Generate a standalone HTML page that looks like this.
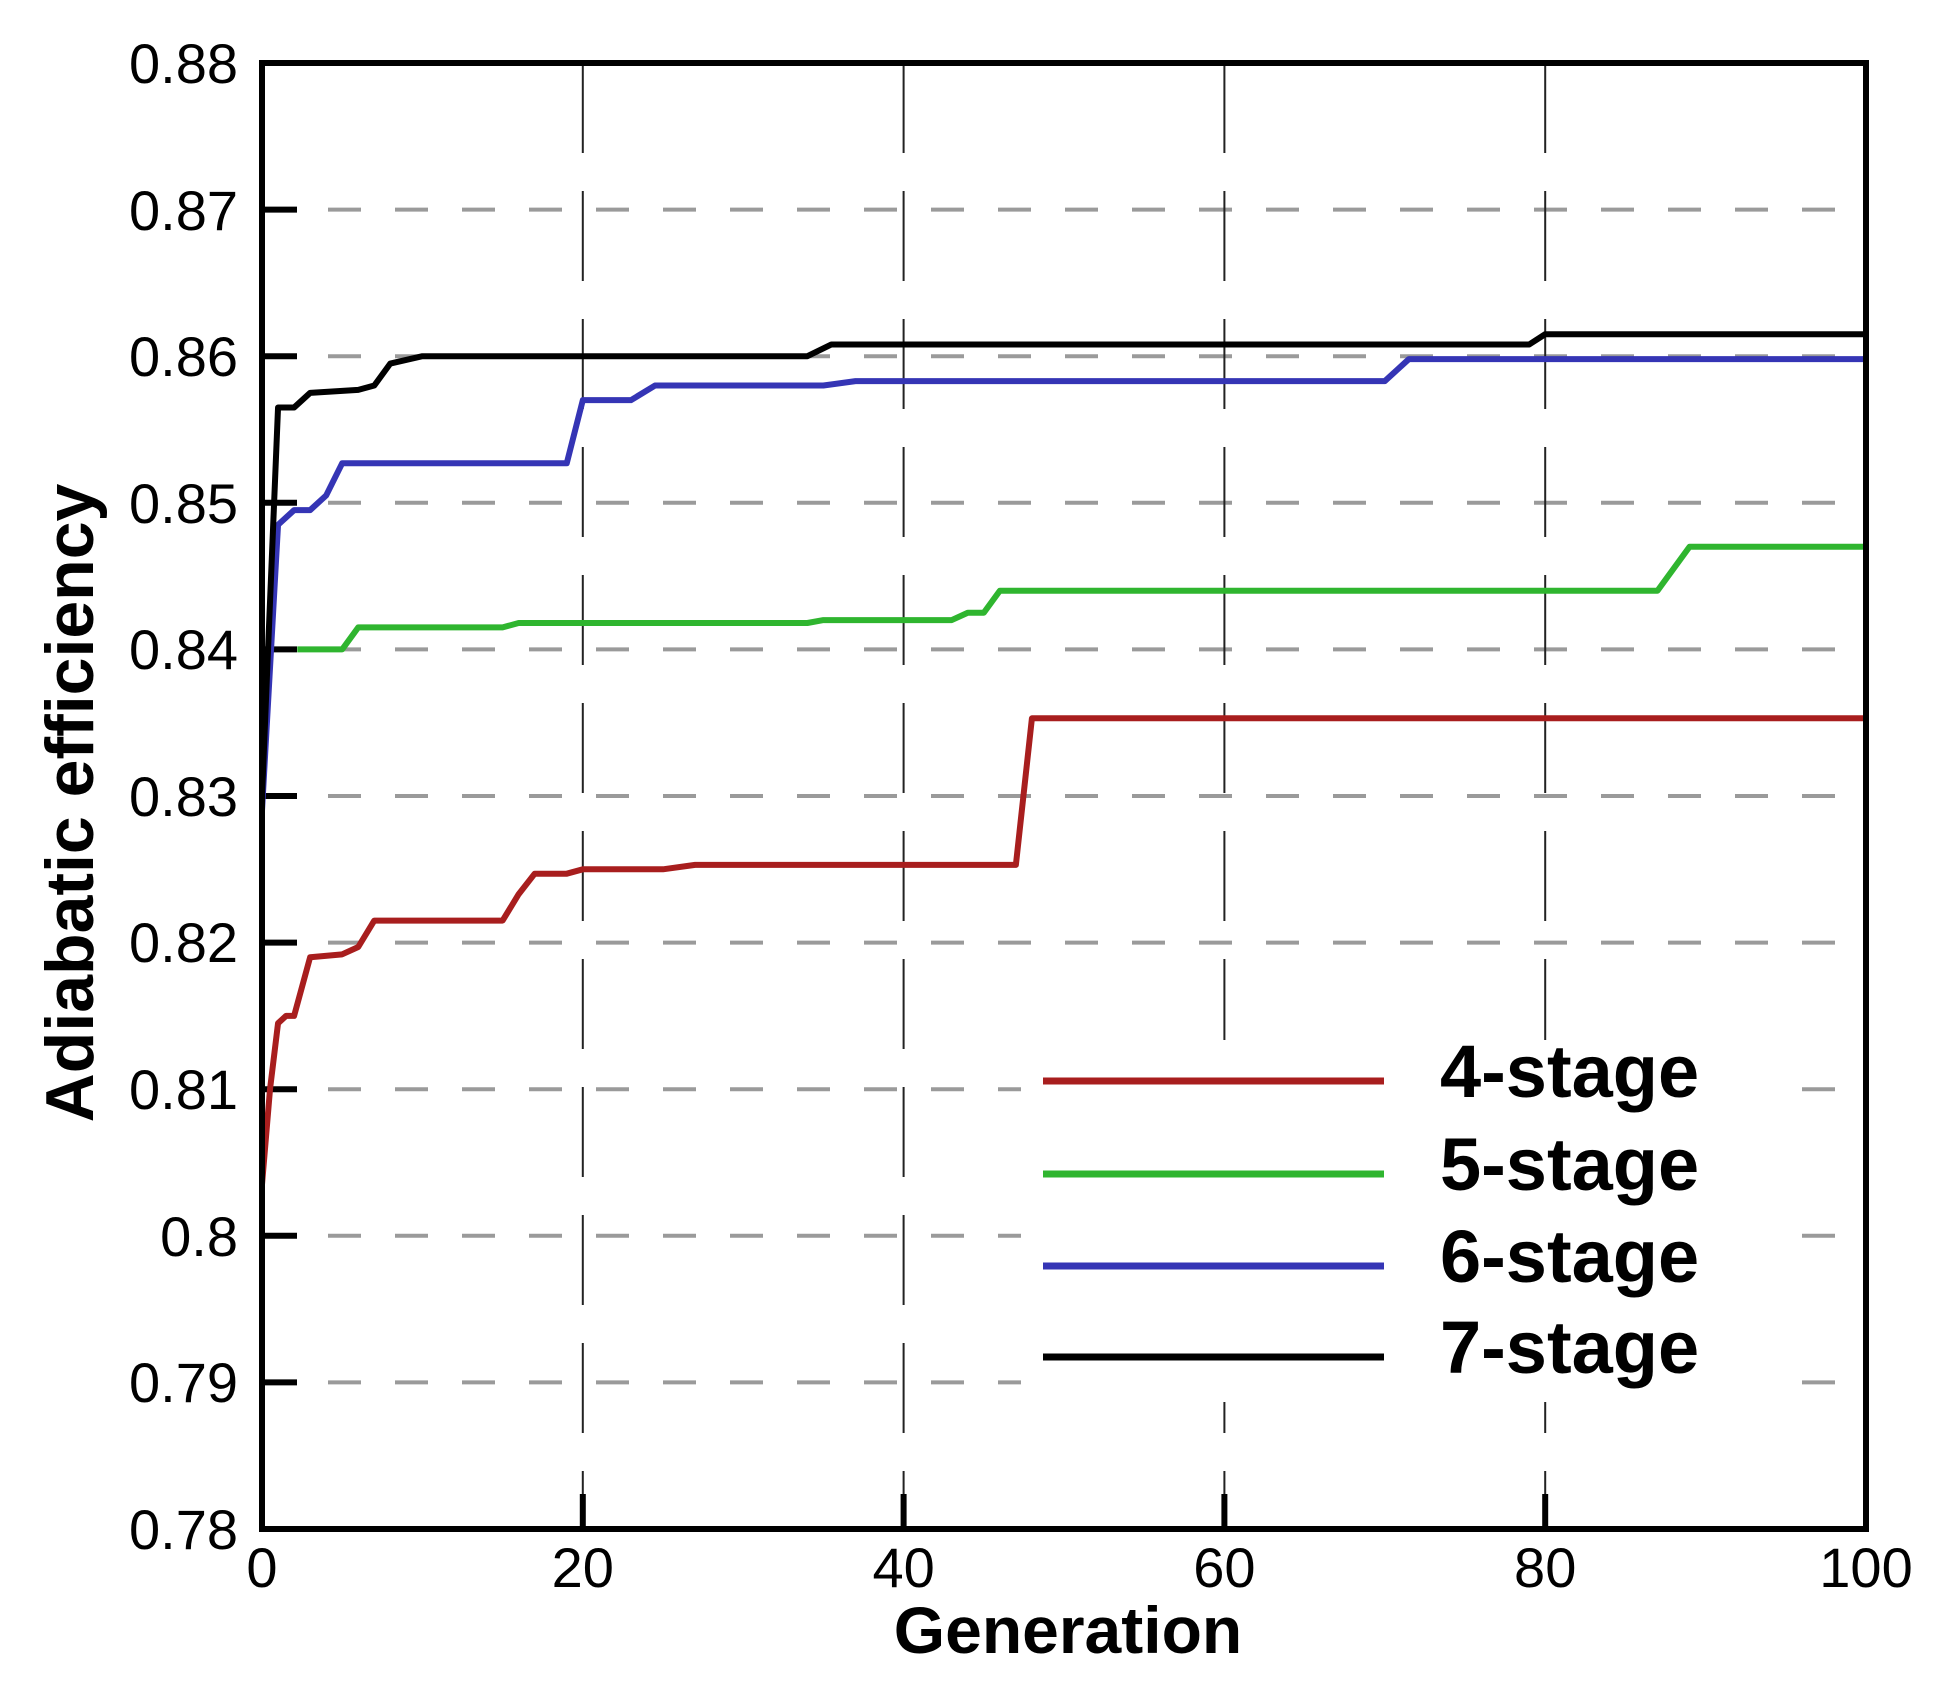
<!DOCTYPE html>
<html><head><meta charset="utf-8"><style>
html,body{margin:0;padding:0;background:#fff;}
svg{display:block;}
text{font-family:"Liberation Sans",Arial,sans-serif;fill:#000;}
</style></head><body>
<svg width="1942" height="1699" viewBox="0 0 1942 1699" xmlns="http://www.w3.org/2000/svg">
<rect width="1942" height="1699" fill="#fff"/>
<g stroke="#9a9a9a" stroke-width="4" stroke-dasharray="33 34">
<line x1="328" y1="209.6" x2="1866" y2="209.6"/>
<line x1="328" y1="356.2" x2="1866" y2="356.2"/>
<line x1="328" y1="502.8" x2="1866" y2="502.8"/>
<line x1="328" y1="649.4" x2="1866" y2="649.4"/>
<line x1="328" y1="796" x2="1866" y2="796"/>
<line x1="328" y1="942.6" x2="1866" y2="942.6"/>
<line x1="328" y1="1089.2" x2="1866" y2="1089.2"/>
<line x1="328" y1="1235.8" x2="1866" y2="1235.8"/>
<line x1="328" y1="1382.4" x2="1866" y2="1382.4"/>
</g>
<g stroke="#222" stroke-width="2" stroke-dasharray="90 38">
<line x1="582.8" y1="63" x2="582.8" y2="1529"/>
<line x1="903.6" y1="63" x2="903.6" y2="1529"/>
<line x1="1224.4" y1="63" x2="1224.4" y2="1529"/>
<line x1="1545.2" y1="63" x2="1545.2" y2="1529"/>
</g>
<rect x="1021" y="1040" width="747" height="362" fill="#fff"/>
<g stroke="#000" stroke-width="6">
<line x1="262" y1="209.6" x2="297" y2="209.6"/>
<line x1="262" y1="356.2" x2="297" y2="356.2"/>
<line x1="262" y1="502.8" x2="297" y2="502.8"/>
<line x1="262" y1="649.4" x2="297" y2="649.4"/>
<line x1="262" y1="796" x2="297" y2="796"/>
<line x1="262" y1="942.6" x2="297" y2="942.6"/>
<line x1="262" y1="1089.2" x2="297" y2="1089.2"/>
<line x1="262" y1="1235.8" x2="297" y2="1235.8"/>
<line x1="262" y1="1382.4" x2="297" y2="1382.4"/>
<line x1="582.8" y1="1529" x2="582.8" y2="1494"/>
<line x1="903.6" y1="1529" x2="903.6" y2="1494"/>
<line x1="1224.4" y1="1529" x2="1224.4" y2="1494"/>
<line x1="1545.2" y1="1529" x2="1545.2" y2="1494"/>
</g>
<g transform="matrix(16.04 0 0 -146.6 262 1529)" fill="none" stroke-linejoin="round">
<polyline vector-effect="non-scaling-stroke" stroke-width="6" stroke="#a81e1e" points="0,2.35 0.5,3 1,3.45 1.5,3.5 2,3.5 3,3.9 5,3.92 6,3.97 7,4.15 15,4.15 16,4.33 17,4.47 19,4.47 20,4.5 25,4.5 27,4.53 47,4.53 48,5.53 100,5.53"/>
<polyline vector-effect="non-scaling-stroke" stroke-width="6" stroke="#2fb52f" points="2.2,6 5,6 6,6.15 15,6.15 16,6.18 34,6.18 35,6.2 43,6.2 44,6.25 45,6.25 46,6.4 87,6.4 89,6.7 100,6.7"/>
<polyline vector-effect="non-scaling-stroke" stroke-width="6" stroke="#3535b5" points="0,4.9 1,6.85 2,6.95 3,6.95 4,7.05 5,7.27 19,7.27 20,7.7 23,7.7 24.5,7.8 35,7.8 37,7.83 70,7.83 71.5,7.98 100,7.98"/>
<polyline vector-effect="non-scaling-stroke" stroke-width="6" stroke="#000" points="0,5 1,7.65 2,7.65 3,7.75 6,7.77 7,7.8 8,7.95 10,8 34,8 35.5,8.08 79,8.08 80,8.15 100,8.15"/>
</g>
<rect x="262" y="63" width="1604" height="1466" fill="none" stroke="#000" stroke-width="6"/>
<g font-size="56" text-anchor="end">
<text x="238" y="83">0.88</text>
<text x="238" y="230">0.87</text>
<text x="238" y="376">0.86</text>
<text x="238" y="523">0.85</text>
<text x="238" y="669">0.84</text>
<text x="238" y="816">0.83</text>
<text x="238" y="962">0.82</text>
<text x="238" y="1109">0.81</text>
<text x="238" y="1256">0.8</text>
<text x="238" y="1402">0.79</text>
<text x="238" y="1549">0.78</text>
</g>
<g font-size="56" text-anchor="middle">
<text x="262" y="1587">0</text>
<text x="582.8" y="1587">20</text>
<text x="903.6" y="1587">40</text>
<text x="1224.4" y="1587">60</text>
<text x="1545.2" y="1587">80</text>
<text x="1866" y="1587">100</text>
</g>
<text x="1068" y="1653" font-size="66" font-weight="bold" text-anchor="middle">Generation</text>
<text transform="translate(93,803) rotate(-90)" font-size="68" font-weight="bold" text-anchor="middle">Adiabatic efficiency</text>
<g stroke-width="7">
<line x1="1043" y1="1081" x2="1384" y2="1081" stroke="#a81e1e"/>
<line x1="1043" y1="1174" x2="1384" y2="1174" stroke="#2fb52f"/>
<line x1="1043" y1="1266" x2="1384" y2="1266" stroke="#3535b5"/>
<line x1="1043" y1="1357" x2="1384" y2="1357" stroke="#000"/>
</g>
<g font-size="74" font-weight="bold">
<text x="1440" y="1097">4-stage</text>
<text x="1440" y="1190">5-stage</text>
<text x="1440" y="1282">6-stage</text>
<text x="1440" y="1373">7-stage</text>
</g>
</svg>
</body></html>
